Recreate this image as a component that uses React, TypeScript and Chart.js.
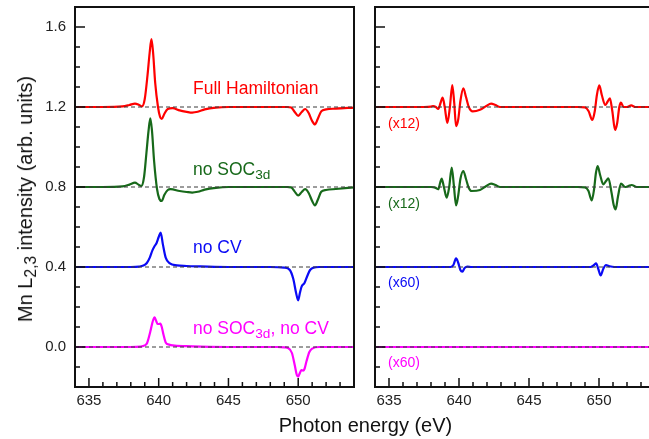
import React, { useEffect, useRef } from "react";
import { Chart, registerables } from "chart.js";

Chart.register(...registerables);

const FONT = "'Liberation Sans', Arial, Helvetica, sans-serif";

// Axes
const X_MIN = 634;
const X_MAX = 654;
const Y_MIN = -0.2;
const Y_MAX = 1.7;
const X_MAJOR = [635, 640, 645, 650];
const X_MINOR = [636, 637, 638, 639, 641, 642, 643, 644, 646, 647, 648, 649, 651, 652, 653];
const Y_MAJOR = [0, 0.4, 0.8, 1.2, 1.6];
const Y_MINOR = [-0.1, 0.1, 0.2, 0.3, 0.5, 0.6, 0.7, 0.9, 1.0, 1.1, 1.3, 1.4, 1.5];
const BASELINES = [1.2, 0.8, 0.4, 0.0];

// Colours
const RED = "#ff0000";
const GREEN = "#17691a";
const BLUE = "#0a0af5";
const MAGENTA = "#ff00ff";

// Left panel series
const FULL_X = [634, 636, 637.4, 637.9, 638.3, 638.6, 638.8, 639.0, 639.2, 639.35, 639.48, 639.6, 639.75, 639.95, 640.1, 640.22, 640.4, 640.65, 641.0, 641.5, 642.0, 642.4, 642.8, 643.3, 644.1, 645, 648, 649.2, 649.5, 649.75, 650.0, 650.25, 650.5, 650.75, 651.0, 651.2, 651.4, 651.65, 652.0, 652.7, 654];
const FULL_Y = [1.2, 1.2, 1.203, 1.21, 1.217, 1.21, 1.203, 1.24, 1.36, 1.47, 1.54, 1.47, 1.32, 1.2, 1.15, 1.14, 1.165, 1.19, 1.194, 1.183, 1.176, 1.172, 1.176, 1.188, 1.197, 1.2, 1.2, 1.2, 1.197, 1.175, 1.156, 1.175, 1.19, 1.17, 1.13, 1.113, 1.14, 1.178, 1.188, 1.192, 1.197];

const NOSOC_X = [634, 636, 637.4, 637.9, 638.3, 638.55, 638.75, 638.95, 639.12, 639.27, 639.4, 639.52, 639.67, 639.88, 640.05, 640.22, 640.4, 640.65, 640.85, 641.5, 642.0, 642.4, 642.8, 643.3, 644.1, 645, 648, 649.2, 649.5, 649.75, 650.0, 650.25, 650.5, 650.75, 651.0, 651.2, 651.4, 651.65, 652.0, 652.7, 654];
const NOSOC_Y = [0.8, 0.8, 0.803, 0.812, 0.822, 0.812, 0.805, 0.85, 0.97, 1.08, 1.143, 1.08, 0.93, 0.79, 0.74, 0.73, 0.76, 0.785, 0.789, 0.78, 0.775, 0.772, 0.776, 0.787, 0.796, 0.8, 0.8, 0.8, 0.798, 0.777, 0.758, 0.775, 0.789, 0.77, 0.73, 0.708, 0.735, 0.776, 0.785, 0.79, 0.798];

const NOCV_X = [634, 638.0, 638.6, 638.9, 639.15, 639.36, 639.55, 639.71, 639.85, 640.0, 640.14, 640.3, 640.5, 640.8, 641.3, 642, 643, 645, 648, 649.0, 649.4, 649.65, 649.85, 650.0, 650.12, 650.25, 650.45, 650.65, 650.85, 651.1, 651.5, 654];
const NOCV_Y = [0.4, 0.4, 0.402, 0.407, 0.42, 0.447, 0.483, 0.505, 0.52, 0.55, 0.572, 0.513, 0.447, 0.418, 0.408, 0.405, 0.403, 0.4, 0.4, 0.397, 0.385, 0.34, 0.27, 0.233, 0.27, 0.303, 0.32, 0.355, 0.385, 0.397, 0.4, 0.4];

const BOTH_X = [634, 638.0, 638.7, 639.0, 639.17, 639.4, 639.58, 639.71, 639.82, 639.92, 640.02, 640.12, 640.22, 640.35, 640.5, 640.75, 641.0, 642, 643, 645, 648.5, 649.0, 649.3, 649.55, 649.75, 649.9, 650.0, 650.12, 650.22, 650.35, 650.45, 650.6, 650.8, 651.0, 651.5, 654];
const BOTH_Y = [0, 0, 0.002, 0.008, 0.02, 0.077, 0.13, 0.148, 0.13, 0.115, 0.115, 0.117, 0.1, 0.06, 0.023, 0.012, 0.008, 0.004, 0.002, 0, 0, -0.002, -0.006, -0.03, -0.09, -0.14, -0.148, -0.13, -0.115, -0.118, -0.11, -0.07, -0.025, -0.008, 0, 0];

// Right panel series (magnified)
const FULL12_X = [634, 637.5, 638.0, 638.15, 638.35, 638.52, 638.68, 638.83, 638.98, 639.17, 639.35, 639.52, 639.66, 639.79, 639.95, 640.1, 640.31, 640.5, 640.7, 640.98, 641.5, 641.95, 642.29, 642.6, 642.93, 648.5, 649.0, 649.25, 649.52, 649.7, 649.85, 650.02, 650.2, 650.45, 650.6, 650.78, 650.95, 651.15, 651.3, 651.45, 651.57, 651.75, 652.0, 652.3, 652.6, 654];
const FULL12_Y = [1.2, 1.2, 1.202, 1.205, 1.2, 1.19, 1.22, 1.247, 1.2, 1.12, 1.2, 1.31, 1.22, 1.104, 1.14, 1.23, 1.293, 1.25, 1.2, 1.178, 1.186, 1.205, 1.217, 1.21, 1.2, 1.2, 1.198, 1.18, 1.135, 1.18, 1.26, 1.308, 1.26, 1.21, 1.225, 1.243, 1.18, 1.085, 1.12, 1.2, 1.222, 1.2, 1.2, 1.208, 1.2, 1.2];

const NOSOC12_X = [634, 637.5, 638.0, 638.3, 638.52, 638.65, 638.76, 638.92, 639.12, 639.3, 639.48, 639.63, 639.79, 639.95, 640.1, 640.31, 640.5, 640.7, 640.9, 641.5, 641.95, 642.29, 642.6, 642.93, 648.5, 649.0, 649.25, 649.48, 649.65, 649.78, 649.9, 650.08, 650.31, 650.5, 650.67, 650.9, 651.05, 651.19, 651.35, 651.57, 651.86, 652.1, 652.33, 652.7, 654];
const NOSOC12_Y = [0.8, 0.8, 0.8, 0.797, 0.789, 0.82, 0.842, 0.8, 0.747, 0.8, 0.897, 0.81, 0.708, 0.76, 0.84, 0.88, 0.84, 0.795, 0.78, 0.785, 0.805, 0.817, 0.81, 0.8, 0.8, 0.798, 0.78, 0.733, 0.79, 0.87, 0.905, 0.86, 0.813, 0.83, 0.843, 0.77, 0.71, 0.688, 0.75, 0.817, 0.8, 0.805, 0.81, 0.8, 0.8];

const NOCV60_X = [634, 639.4, 639.6, 639.79, 639.95, 640.1, 640.24, 640.4, 640.6, 640.9, 649.4, 649.65, 649.79, 649.95, 650.12, 650.3, 650.5, 650.75, 651.1, 654];
const NOCV60_Y = [0.4, 0.4, 0.41, 0.443, 0.42, 0.385, 0.377, 0.395, 0.402, 0.4, 0.4, 0.41, 0.418, 0.39, 0.358, 0.39, 0.41, 0.404, 0.4, 0.4];

const BOTH60_X = [634, 654];
const BOTH60_Y = [0, 0];

const toPoints = (xs: number[], ys: number[]) => xs.map((x, i) => ({ x, y: ys[i] }));

const series = (xs: number[], ys: number[], color: string) => ({
  data: toPoints(xs, ys),
  borderColor: color,
  borderWidth: 2.2,
  pointRadius: 0,
  fill: false,
  cubicInterpolationMode: "monotone" as const,
  order: 1,
});

const baselineSets = () =>
  BASELINES.map((b) => ({
    data: [
      { x: X_MIN, y: b },
      { x: X_MAX, y: b },
    ],
    borderColor: "#3a3a3a",
    borderWidth: 1,
    borderDash: [4, 3],
    pointRadius: 0,
    fill: false,
    order: 0,
  }));

const framePlugin = {
  id: "frame",
  afterDatasetsDraw(chart: any) {
    const { ctx, chartArea: a, scales } = chart;
    const xs = scales.x;
    const ys = scales.y;
    ctx.save();
    ctx.strokeStyle = "#111";
    ctx.lineWidth = 1.5;
    ctx.beginPath();
    X_MAJOR.forEach((v) => {
      const p = xs.getPixelForValue(v);
      ctx.moveTo(p, a.bottom);
      ctx.lineTo(p, a.bottom - 9);
    });
    X_MINOR.forEach((v) => {
      const p = xs.getPixelForValue(v);
      ctx.moveTo(p, a.bottom);
      ctx.lineTo(p, a.bottom - 5);
    });
    Y_MAJOR.forEach((v) => {
      const p = ys.getPixelForValue(v);
      ctx.moveTo(a.left, p);
      ctx.lineTo(a.left + 10, p);
    });
    Y_MINOR.forEach((v) => {
      const p = ys.getPixelForValue(v);
      ctx.moveTo(a.left, p);
      ctx.lineTo(a.left + 5, p);
    });
    ctx.stroke();
    ctx.lineWidth = 2;
    ctx.strokeRect(a.left, a.top, a.right - a.left, a.bottom - a.top);
    ctx.restore();
  },
};

function makeConfig(datasets: any[], showY: boolean, padding: any) {
  return {
    type: "line" as const,
    data: { datasets: [...baselineSets(), ...datasets] },
    options: {
      animation: false as const,
      responsive: false,
      maintainAspectRatio: false,
      layout: { padding },
      plugins: { legend: { display: false }, tooltip: { enabled: false } },
      scales: {
        x: {
          type: "linear" as const,
          min: X_MIN,
          max: X_MAX,
          grid: { display: false, drawTicks: false },
          border: { display: false },
          ticks: { color: "#222", font: { family: FONT, size: 15 }, padding: 5, maxRotation: 0, autoSkip: false },
          afterBuildTicks: (s: any) => {
            s.ticks = X_MAJOR.map((v) => ({ value: v }));
          },
          afterFit: (s: any) => {
            s.height = 52;
            s.paddingLeft = 0;
            s.paddingRight = 0;
          },
        },
        y: {
          type: "linear" as const,
          min: Y_MIN,
          max: Y_MAX,
          grid: { display: false, drawTicks: false },
          border: { display: false },
          ticks: {
            display: showY,
            color: "#222",
            font: { family: FONT, size: 15 },
            padding: 9,
            callback: (v: any) => Number(v).toFixed(1),
          },
          afterBuildTicks: (s: any) => {
            s.ticks = Y_MAJOR.map((v) => ({ value: v }));
          },
          afterFit: (s: any) => {
            s.width = showY ? 75 : 0;
            s.paddingTop = 0;
            s.paddingBottom = 0;
          },
        },
      },
    },
    plugins: [framePlugin],
  };
}

const sub: React.CSSProperties = { fontSize: "0.78em", verticalAlign: "-4px", lineHeight: 0 };

const label = (left: number, top: number, color: string, size: number, content: React.ReactNode) => (
  <div
    style={{
      position: "absolute",
      left,
      top,
      color,
      fontFamily: FONT,
      fontSize: size,
      lineHeight: `${size}px`,
      whiteSpace: "nowrap",
    }}
  >
    {content}
  </div>
);

export default function App() {
  const leftRef = useRef<HTMLCanvasElement>(null);
  const rightRef = useRef<HTMLCanvasElement>(null);

  useEffect(() => {
    const c1 = new Chart(
      leftRef.current as HTMLCanvasElement,
      makeConfig(
        [
          series(FULL_X, FULL_Y, RED),
          series(NOSOC_X, NOSOC_Y, GREEN),
          series(NOCV_X, NOCV_Y, BLUE),
          series(BOTH_X, BOTH_Y, MAGENTA),
        ],
        true,
        { left: 0, top: 7, right: 8, bottom: 0 }
      ) as any
    );
    const c2 = new Chart(
      rightRef.current as HTMLCanvasElement,
      makeConfig(
        [
          series(FULL12_X, FULL12_Y, RED),
          series(NOSOC12_X, NOSOC12_Y, GREEN),
          series(NOCV60_X, NOCV60_Y, BLUE),
          series(BOTH60_X, BOTH60_Y, MAGENTA),
        ],
        false,
        { left: 13, top: 7, right: 0, bottom: 0 }
      ) as any
    );
    return () => {
      c1.destroy();
      c2.destroy();
    };
  }, []);

  return (
    <div
      style={{
        position: "fixed",
        left: 0,
        top: 0,
        width: 649,
        height: 439,
        overflow: "hidden",
        background: "#fff",
      }}
    >
      <canvas ref={leftRef} width={362} height={439} style={{ position: "absolute", left: 0, top: 0, display: "block" }} />
      <canvas ref={rightRef} width={293} height={439} style={{ position: "absolute", left: 362, top: 0, display: "block" }} />

      {label(193, 79.5, RED, 17.5, "Full Hamiltonian")}
      {label(193, 161, GREEN, 17.5, <>no SOC<span style={sub}>3d</span></>)}
      {label(193, 239, BLUE, 17.5, "no CV")}
      {label(193, 319.5, MAGENTA, 17.5, <>no SOC<span style={sub}>3d</span>, no CV</>)}

      {label(388, 116, RED, 14, "(x12)")}
      {label(388, 196, GREEN, 14, "(x12)")}
      {label(388, 275, BLUE, 14, "(x60)")}
      {label(388, 355, MAGENTA, 14, "(x60)")}

      <div
        style={{
          position: "absolute",
          left: 365.5,
          top: 415,
          transform: "translateX(-50%)",
          fontFamily: FONT,
          fontSize: 20,
          lineHeight: "20px",
          color: "#111",
          whiteSpace: "nowrap",
        }}
      >
        Photon energy (eV)
      </div>
      <div
        style={{
          position: "absolute",
          left: 24.5,
          top: 199,
          transform: "translate(-50%, -50%) rotate(-90deg)",
          fontFamily: FONT,
          fontSize: 20,
          lineHeight: "20px",
          color: "#111",
          whiteSpace: "nowrap",
        }}
      >
        Mn L<span style={sub}>2,3</span> intensity (arb. units)
      </div>
    </div>
  );
}
